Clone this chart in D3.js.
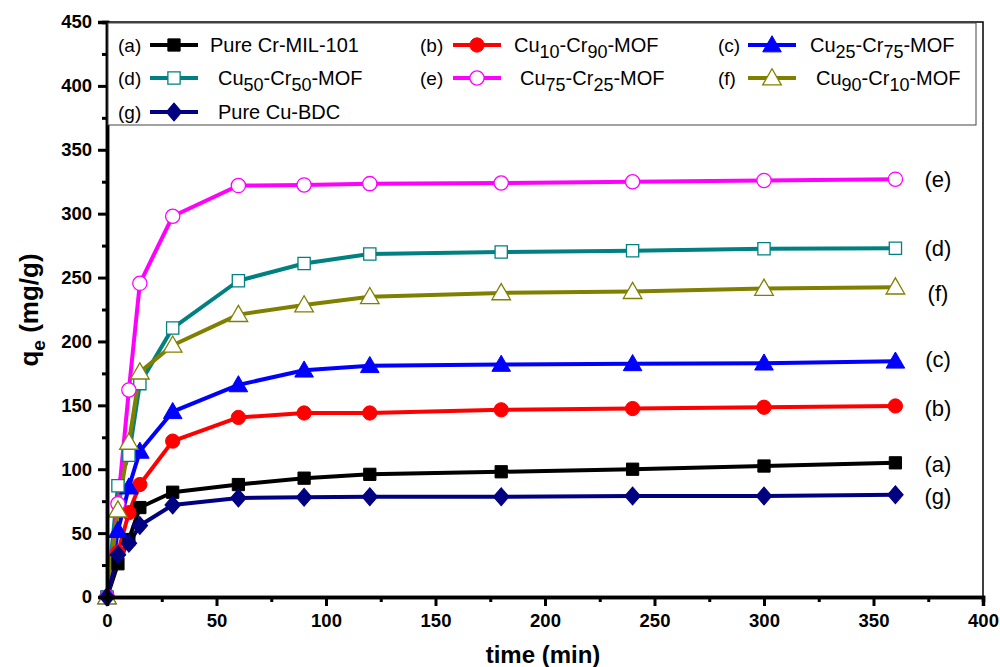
<!DOCTYPE html>
<html>
<head>
<meta charset="utf-8">
<script src="https://cdn.jsdelivr.net/npm/d3@7"></script>
<style>
  body { margin: 0; background: #fff; }
  text { font-family: "Liberation Sans", Arial, sans-serif; }
</style>
</head>
<body>
<svg width="1000" height="667"></svg>
<script>
// time points (min)
const times = [0, 5, 10, 15, 30, 60, 90, 120, 180, 240, 300, 360];

// q_e values (mg/g) for each sample
const pureCr   = [0, 26, 45, 70, 82, 88, 93, 96, 98, 100, 102.5, 105];
const cu10cr90 = [0, 35, 66, 88, 122, 140.5, 144, 144, 146.5, 147.5, 148.5, 149.5];
const cu25cr75 = [0, 52, 86, 114, 145, 166, 177.5, 181, 182, 182.5, 183, 184.5];
const cu50cr50 = [0, 87, 111, 167, 210.5, 247.5, 261, 268.5, 270, 271, 272.5, 273];
const cu75cr25 = [0, 73, 162, 245.5, 298, 322, 322.5, 323.5, 324, 325, 326, 327];
const cu90cr10 = [0, 68, 121, 176, 197, 221, 228.5, 235, 238, 239, 241.5, 242.5];
const pureCu   = [0, 33, 42, 56, 72, 77.5, 78, 78.5, 78.5, 79, 79, 80];

const series = [
  {key: "(a)", name: "Pure Cr-MIL-101", values: pureCr, color: "#000000", symbol: "square", fill: true},
  {key: "(b)", name: [["Cu", ""], ["10", "sub"], ["-Cr", ""], ["90", "sub"], ["-MOF", ""]], values: cu10cr90, color: "#ff0000", symbol: "circle", fill: true},
  {key: "(c)", name: [["Cu", ""], ["25", "sub"], ["-Cr", ""], ["75", "sub"], ["-MOF", ""]], values: cu25cr75, color: "#0000ff", symbol: "triangle", fill: true},
  {key: "(d)", name: [["Cu", ""], ["50", "sub"], ["-Cr", ""], ["50", "sub"], ["-MOF", ""]], values: cu50cr50, color: "#008080", symbol: "square", fill: false},
  {key: "(e)", name: [["Cu", ""], ["75", "sub"], ["-Cr", ""], ["25", "sub"], ["-MOF", ""]], values: cu75cr25, color: "#ff00ff", symbol: "circle", fill: false},
  {key: "(f)", name: [["Cu", ""], ["90", "sub"], ["-Cr", ""], ["10", "sub"], ["-MOF", ""]], values: cu90cr10, color: "#808000", symbol: "triangle", fill: false},
  {key: "(g)", name: "Pure Cu-BDC", values: pureCu, color: "#000080", symbol: "diamond", fill: true}
];

// end labels on the right
const endLabels = [
  {key: "(e)", y: 327}, {key: "(d)", y: 273}, {key: "(f)", y: 238},
  {key: "(c)", y: 186}, {key: "(b)", y: 148}, {key: "(a)", y: 104}, {key: "(g)", y: 79}
];

const xTicks = d3.range(0, 401, 50);
const yTicks = d3.range(0, 451, 50);

const svg = d3.select("svg");
const x = d3.scaleLinear().domain([0, 400]).range([107, 983]);
const y = d3.scaleLinear().domain([0, 450]).range([597, 22]);

const symbolTypes = {
  square: d3.symbolSquare,
  circle: d3.symbolCircle,
  triangle: d3.symbolTriangle,
  diamond: d3.symbolSquare
};
const symbolSizes = {square: 150, circle: 160, triangle: 150, diamond: 120};

function drawMarker(g, s, cx, cy) {
  let sym = d3.symbol().type(symbolTypes[s.symbol]).size(symbolSizes[s.symbol]);
  let tf = `translate(${cx},${cy})`;
  if (s.symbol === "diamond") tf += " scale(1,1.15) rotate(45)";
  if (s.symbol === "triangle") tf = `translate(${cx},${cy + 1.5})`;
  g.append("path")
    .attr("d", sym())
    .attr("transform", tf)
    .attr("fill", s.fill ? s.color : "#fff")
    .attr("stroke", s.color)
    .attr("stroke-width", s.fill ? 1 : 1.3);
}

// frame (top and right thin)
svg.append("rect")
  .attr("x", x(0)).attr("y", y(450))
  .attr("width", x(400) - x(0)).attr("height", y(0) - y(450))
  .attr("fill", "none").attr("stroke", "#000").attr("stroke-width", 1.5);

// lines + markers
const line = d3.line().x((d, i) => x(times[i])).y(d => y(d));
const plot = svg.append("g");
series.forEach(s => {
  plot.append("path")
    .datum(s.values)
    .attr("d", line)
    .attr("fill", "none")
    .attr("stroke", s.color)
    .attr("stroke-width", 4)
    .attr("stroke-linejoin", "round");
});
series.forEach(s => {
  const mg = plot.append("g");
  s.values.forEach((v, i) => drawMarker(mg, s, x(times[i]), y(v)));
});

// axes
const xAxis = svg.append("g")
  .attr("transform", `translate(0,${y(0)})`)
  .call(d3.axisBottom(x).tickValues(xTicks).tickSize(9).tickPadding(8));
xAxis.append("g").call(d3.axisBottom(x).tickValues(d3.range(25, 400, 50)).tickSize(5).tickFormat(""));
const yAxis = svg.append("g")
  .attr("transform", `translate(${x(0)},0)`)
  .call(d3.axisLeft(y).tickValues(yTicks).tickSize(9).tickPadding(6));
yAxis.append("g").call(d3.axisLeft(y).tickValues(d3.range(25, 450, 50)).tickSize(5).tickFormat(""));

[xAxis, yAxis].forEach(a => {
  a.selectAll(".domain").attr("stroke-width", 3.5);
  a.selectAll(".tick line").attr("stroke-width", 3);
  a.selectAll("text")
    .attr("font-size", 18.5)
    .attr("font-weight", "bold")
    .attr("font-family", "Liberation Sans, Arial, sans-serif")
    .attr("fill", "#000");
});

// axis titles
svg.append("text")
  .attr("x", 543).attr("y", 663)
  .attr("text-anchor", "middle")
  .attr("font-size", 24).attr("font-weight", "bold")
  .text("time (min)");

const yt = svg.append("text")
  .attr("transform", "translate(38,310) rotate(-90)")
  .attr("text-anchor", "middle")
  .attr("font-size", 26).attr("font-weight", "bold");
yt.append("tspan").text("q");
yt.append("tspan").attr("font-size", 19).attr("dy", 7).text("e");
yt.append("tspan").attr("dy", -7).text(" (mg/g)");

// end labels
svg.append("g").selectAll("text")
  .data(endLabels)
  .join("text")
  .attr("x", 938).attr("y", d => y(d.y) + 8)
  .attr("text-anchor", "middle")
  .attr("font-size", 22)
  .text(d => d.key);

// legend
const legend = svg.append("g");
legend.append("rect")
  .attr("x", x(0) + 1).attr("y", y(450) + 1)
  .attr("width", 868).attr("height", 102)
  .attr("fill", "#fff").attr("stroke", "#444").attr("stroke-width", 1);

const legendPos = [
  {kx: 118, lx: 150, tx: 210, ty: 45},
  {kx: 420, lx: 453, tx: 514, ty: 45},
  {kx: 718, lx: 748, tx: 810, ty: 45},
  {kx: 118, lx: 150, tx: 218, ty: 78},
  {kx: 420, lx: 453, tx: 520, ty: 78},
  {kx: 718, lx: 748, tx: 816, ty: 78},
  {kx: 118, lx: 150, tx: 218, ty: 112}
];

series.forEach((s, i) => {
  const p = legendPos[i];
  const g = legend.append("g");
  g.append("text").attr("x", p.kx).attr("y", p.ty + 7).attr("font-size", 19).text(s.key);
  g.append("line")
    .attr("x1", p.lx).attr("x2", p.lx + 48)
    .attr("y1", p.ty).attr("y2", p.ty)
    .attr("stroke", s.color).attr("stroke-width", 4);
  drawMarker(g, s, p.lx + 24, p.ty);
  const t = g.append("text").attr("x", p.tx).attr("y", p.ty + 7).attr("font-size", 20);
  if (typeof s.name === "string") {
    t.text(s.name);
  } else {
    let shift = 0;
    s.name.forEach(([str, kind]) => {
      const dy = (kind === "sub" ? 6 : 0) - shift;
      shift = kind === "sub" ? 6 : 0;
      t.append("tspan").attr("dy", dy).attr("font-size", kind === "sub" ? 18 : 20).text(str);
    });
  }
});
</script>
</body>
</html>
